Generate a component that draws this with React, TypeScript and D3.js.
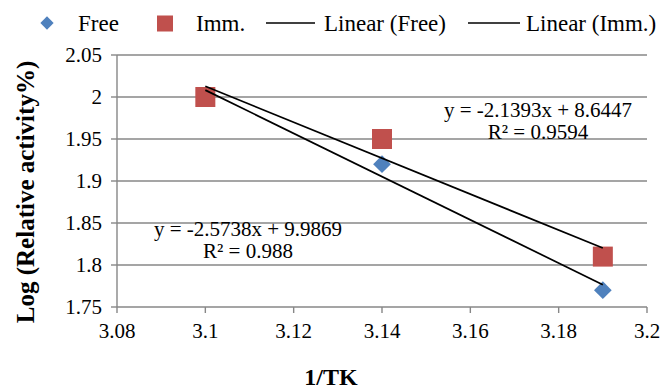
import React from 'react';
import * as d3 from 'd3';

// data
const xValues = [3.1, 3.14, 3.19];
const freeValues = [2.0, 1.92, 1.77];
const immValues = [2.0, 1.95, 1.81];

const xTicks = [3.08, 3.1, 3.12, 3.14, 3.16, 3.18, 3.2];
const yTicks = [1.75, 1.8, 1.85, 1.9, 1.95, 2, 2.05];

const freeEquation = ['y = -2.5738x + 9.9869', 'R² = 0.988'];
const immEquation = ['y = -2.1393x + 8.6447', 'R² = 0.9594'];

const legendItems = ['Free', 'Imm.', 'Linear (Free)', 'Linear (Imm.)'];

const width = 662;
const height = 392;
const margin = {left: 117, right: 15, top: 55, bottom: 85};
const font = '"Liberation Serif", "Times New Roman", serif';
const blue = '#4F81BD';
const red = '#C0504D';
const grid = '#878787';

// least squares fit, same as excel's linear trendline
function fit(xs: number[], ys: number[]) {
    const mx = d3.mean(xs) as number;
    const my = d3.mean(ys) as number;
    let num = 0;
    let den = 0;
    xs.forEach((x, i) => {
        num += (x - mx) * (ys[i] - my);
        den += (x - mx) * (x - mx);
    });
    const slope = num / den;
    return (x: number) => my + slope * (x - mx);
}

export default function App() {
    const xScale = d3.scaleLinear().domain([3.08, 3.2]).range([margin.left, width - margin.right]);
    const yScale = d3.scaleLinear().domain([1.75, 2.05]).range([height - margin.bottom, margin.top]);

    const x0 = d3.min(xValues) as number;
    const x1 = d3.max(xValues) as number;
    const line = d3.line<[number, number]>()
        .x((d) => xScale(d[0]))
        .y((d) => yScale(d[1]));

    const freeFit = fit(xValues, freeValues);
    const immFit = fit(xValues, immValues);

    const diamond = d3.symbol().type(d3.symbolDiamond2).size(200)();
    const bottom = yScale(1.75);
    const left = xScale(3.08);

    return (
        <svg width={width} height={height} style={{position: 'absolute', left: 0, top: 0, background: '#fff'}}
            fontFamily={font}>
            {/* gridlines */}
            {yTicks.map((t) => (
                <line key={'g' + t} x1={left} x2={xScale(3.2)} y1={yScale(t)} y2={yScale(t)}
                    stroke={grid} strokeWidth={1.4} />
            ))}

            {/* axes */}
            <line x1={left} x2={left} y1={yScale(2.05)} y2={bottom} stroke={grid} strokeWidth={1.4} />
            {yTicks.map((t) => (
                <g key={'y' + t}>
                    <line x1={left - 6} x2={left} y1={yScale(t)} y2={yScale(t)} stroke={grid} strokeWidth={1.4} />
                    <text x={left - 15} y={yScale(t)} dy="0.35em" textAnchor="end" fontSize={21}>{t}</text>
                </g>
            ))}
            {xTicks.map((t) => (
                <g key={'x' + t}>
                    <line x1={xScale(t)} x2={xScale(t)} y1={bottom} y2={bottom + 6} stroke={grid} strokeWidth={1.4} />
                    <text x={xScale(t)} y={bottom + 31} textAnchor="middle" fontSize={21}>{t}</text>
                </g>
            ))}

            {/* axis titles */}
            <text x={331} y={385} textAnchor="middle" fontSize={24} fontWeight="bold">1/TK</text>
            <text transform="translate(34, 192) rotate(-90)" textAnchor="middle" fontSize={25} fontWeight="bold">
                Log (Relative activity%)
            </text>

            {/* points, squares over diamonds */}
            {xValues.map((x, i) => (
                <path key={'f' + i} d={diamond as string} transform={`translate(${xScale(x)}, ${yScale(freeValues[i])})`}
                    fill={blue} />
            ))}
            {xValues.map((x, i) => (
                <rect key={'i' + i} x={xScale(x) - 10} y={yScale(immValues[i]) - 10} width={20} height={20} fill={red} />
            ))}

            {/* trendlines */}
            <path d={line([[x0, freeFit(x0)], [x1, freeFit(x1)]]) as string} fill="none" stroke="#000" strokeWidth={1.7} />
            <path d={line([[x0, immFit(x0)], [x1, immFit(x1)]]) as string} fill="none" stroke="#000" strokeWidth={1.7} />

            {/* equations */}
            <g fontSize={21} textAnchor="middle">
                <text x={538} y={117}>{immEquation[0]}</text>
                <text x={538} y={139}>{immEquation[1]}</text>
                <text x={248} y={236}>{freeEquation[0]}</text>
                <text x={248} y={258}>{freeEquation[1]}</text>
            </g>

            {/* legend */}
            <g fontSize={23}>
                <path d={d3.symbol().type(d3.symbolDiamond2).size(112)() as string} transform="translate(47, 23)" fill={blue} />
                <text x={78} y={31}>{legendItems[0]}</text>
                <rect x={157} y={15.5} width={16} height={16} fill={red} />
                <text x={196} y={31}>{legendItems[1]}</text>
                <line x1={266} x2={315} y1={23} y2={23} stroke="#000" strokeWidth={1.7} />
                <text x={324} y={31}>{legendItems[2]}</text>
                <line x1={468} x2={520} y1={23} y2={23} stroke="#000" strokeWidth={1.7} />
                <text x={526} y={31}>{legendItems[3]}</text>
            </g>
        </svg>
    );
}
